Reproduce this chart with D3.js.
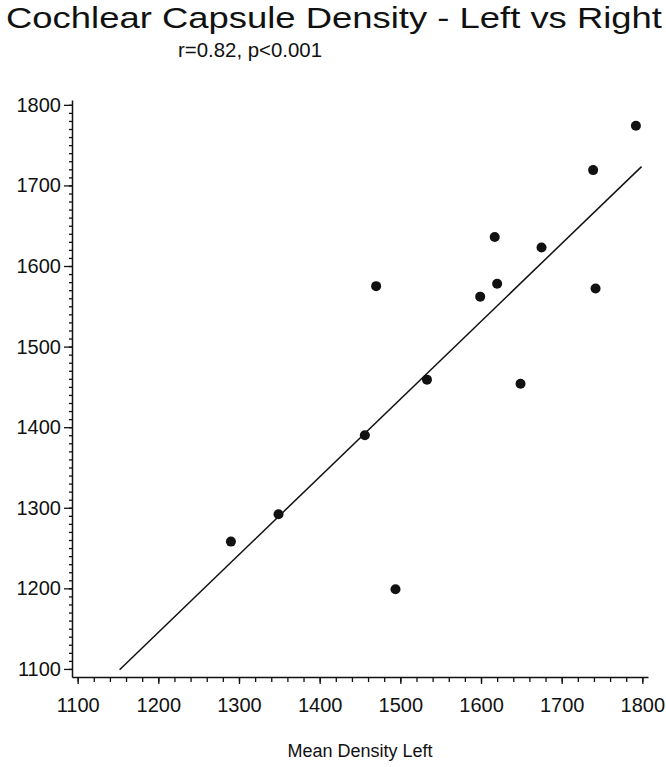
<!DOCTYPE html>
<html>
<head>
<meta charset="utf-8">
<script src="https://cdn.jsdelivr.net/npm/d3@7"></script>
<style>
body{margin:0;background:#fff;}
text{font-family:"Liberation Sans",Arial,sans-serif;fill:#111;}
</style>
</head>
<body>
<div id="svg-container"></div>
<script>
// mean density left / right, one entry per subject
var densityLeft  = [1290, 1349, 1456, 1470, 1494, 1533, 1599, 1617, 1620, 1649, 1675, 1739, 1742, 1792];
var densityRight = [1258, 1292, 1390, 1575, 1199, 1459, 1562, 1636, 1578, 1454, 1623, 1719, 1572, 1774];
var tickLabels = [1100, 1200, 1300, 1400, 1500, 1600, 1700, 1800];
var fitRange = [1152, 1799];
var fitSlope = 0.965;
var fitIntercept = -12.7;

var svg = d3.select("#svg-container").append("svg").attr("width", 666).attr("height", 767);

var x = d3.scaleLinear().domain([1093, 1807]).range([72, 648]);
var y = d3.scaleLinear().domain([1090, 1806]).range([677, 100]);

// title
svg.append("text").attr("x", 334).attr("y", 28).attr("text-anchor", "middle")
  .attr("font-size", 29).attr("textLength", 656).attr("lengthAdjust", "spacingAndGlyphs")
  .text("Cochlear Capsule Density - Left vs Right");
svg.append("text").attr("x", 250).attr("y", 57).attr("text-anchor", "middle")
  .attr("font-size", 21).attr("textLength", 144).attr("lengthAdjust", "spacingAndGlyphs")
  .text("r=0.82, p<0.001");

// minor ticks
svg.append("g").attr("transform", "translate(0,677)")
  .call(d3.axisBottom(x).tickValues(d3.range(1100, 1801, 20)).tickSize(5).tickFormat(""))
  .call(g => g.select(".domain").remove());
svg.append("g").attr("transform", "translate(72,0)")
  .call(d3.axisLeft(y).tickValues(d3.range(1100, 1801, 10)).tickSize(3).tickFormat(""))
  .call(g => g.select(".domain").remove());

// major axes
var xAxis = svg.append("g").attr("transform", "translate(0,677)")
  .call(d3.axisBottom(x).tickValues(tickLabels).tickSize(7).tickPadding(14).tickSizeOuter(0).tickFormat(d3.format("d")));
var yAxis = svg.append("g").attr("transform", "translate(72,0)")
  .call(d3.axisLeft(y).tickValues(tickLabels).tickSize(8).tickPadding(3).tickSizeOuter(0).tickFormat(d3.format("d")));

[xAxis, yAxis].forEach(function(a){
  a.selectAll("text").attr("font-size", 20).attr("font-family", "Liberation Sans, Arial, sans-serif").attr("fill", "#111");
  a.select(".domain").attr("stroke", "#111").attr("stroke-width", 1.5);
});
svg.selectAll("g line").attr("stroke", "#111").attr("stroke-width", 1.3);

svg.append("text").attr("x", 360).attr("y", 757).attr("text-anchor", "middle")
  .attr("font-size", 18).text("Mean Density Left");

// regression line
svg.append("line")
  .attr("x1", x(fitRange[0])).attr("y1", y(fitIntercept + fitSlope * fitRange[0]))
  .attr("x2", x(fitRange[1])).attr("y2", y(fitIntercept + fitSlope * fitRange[1]))
  .attr("stroke", "#111").attr("stroke-width", 1.5);

// points
svg.selectAll("circle.pt").data(densityLeft).enter().append("circle")
  .attr("class", "pt")
  .attr("cx", function(d){ return x(d); })
  .attr("cy", function(d, i){ return y(densityRight[i]); })
  .attr("r", 5).attr("fill", "#111");
</script>
</body>
</html>
